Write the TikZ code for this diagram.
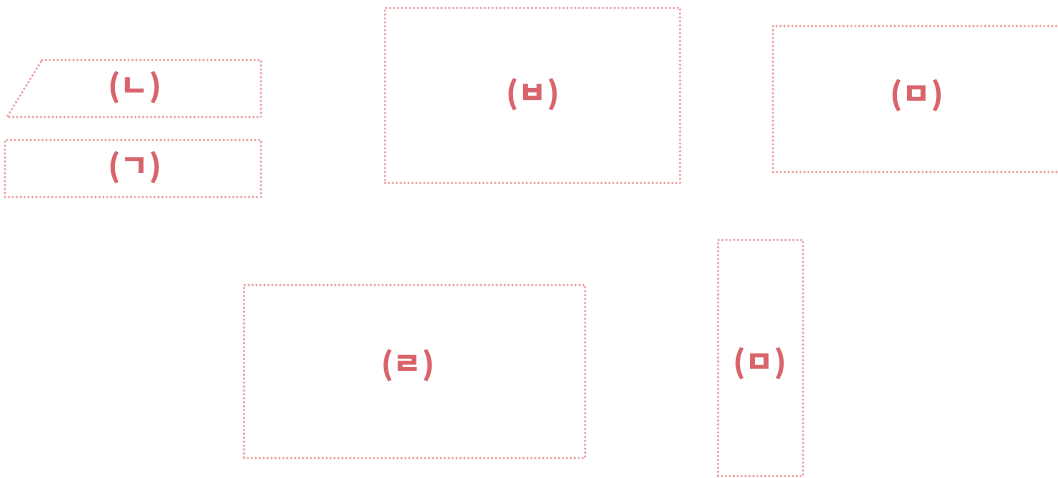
\documentclass[tikz,border=0pt]{standalone}
\usepackage{fontspec}
\usepackage{xcolor}
\usepackage{tikz}
\newfontfamily\kr{Noto Sans CJK KR}
\definecolor{edgec}{HTML}{EBA3A5}
\definecolor{labelc}{HTML}{D9636B}
\tikzset{
  panel/.style={draw=edgec, line width=1.9pt, line cap=round, dash pattern=on 0pt off 2.8pt,
               inner sep=0pt, outer sep=0pt},
  panellabel/.style={font=\kr\bfseries\fontsize{22}{22}\selectfont, text=labelc, inner sep=0pt},
}

\begin{document}
\begin{tikzpicture}[x=0.025cm, y=-0.025cm]
  \useasboundingbox (0,0) rectangle (1058,478);
  % upper left pair
  \draw[panel] (42,60) -- (261,60) -- (261,117) -- (7,117) -- cycle;
  \node[panel, minimum width=6.4cm, minimum height=1.425cm] (g) at (133,168.5) {};
  % top row
  \node[panel, minimum width=7.375cm, minimum height=4.375cm] (b) at (532.5,95.5) {};
  \node[panel, minimum width=7.225cm, minimum height=3.65cm] (m) at (917.5,99) {};
  % bottom row
  \node[panel, minimum width=8.525cm, minimum height=4.325cm] (r) at (414.5,371.5) {};
  \node[panel, minimum width=2.125cm, minimum height=5.9cm] (mm) at (760.5,358) {};
  % labels
  \node[panellabel] (nl) at (135,88) {(ㄴ)};
  \node[panellabel] (gl) at (135,168) {(ㄱ)};
  \node[panellabel] (bl) at (533,95) {(ㅂ)};
  \node[panellabel] (ml) at (917,96) {(ㅁ)};
  \node[panellabel] (rl) at (408,366) {(ㄹ)};
  \node[panellabel] (mml) at (760,364) {(ㅁ)};
\end{tikzpicture}
\end{document}
